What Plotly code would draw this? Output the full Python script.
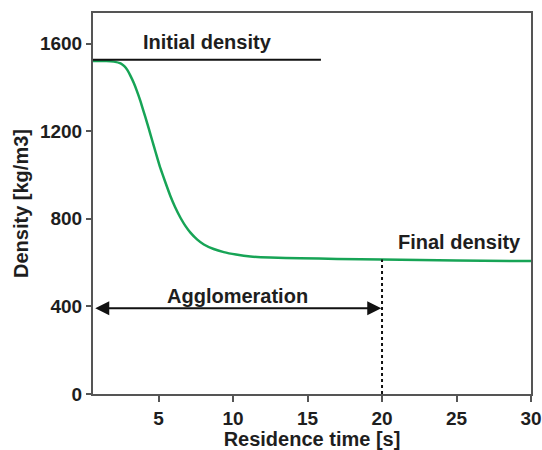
import plotly.graph_objects as go

# Residence time [s] and density [kg/m3]
time_s = [0.6, 1.5, 2.0, 2.45, 2.7, 2.9, 3.1, 3.34, 3.55, 3.79, 4.0, 4.24, 4.45, 4.68,
          4.9, 5.13, 5.45, 5.8, 6.1, 6.47, 6.8, 7.14, 7.6, 8.04, 8.7, 9.38, 10.2,
          11.17, 12.5, 14.5, 17.0, 20.0, 25.0, 30.0]
density = [1521, 1521, 1518, 1510, 1497, 1480, 1455, 1420, 1383, 1336, 1290, 1236,
           1187, 1133, 1082, 1030, 968, 903, 855, 805, 768, 737, 705, 683, 662, 648,
           637, 628, 623, 620, 617, 614, 610, 607]

initial_density = 1527
initial_line_x = [0.6, 15.9]
agglomeration_end = 20
final_density = 614
arrow_y = 392

x_ticks = [5, 10, 15, 20, 25, 30]
y_ticks = [0, 400, 800, 1200, 1600]

FONT = "Liberation Sans, Arial, sans-serif"
TXT = "#1e1e1e"
AX = "#555555"

fig = go.Figure()
fig.add_trace(go.Scatter(x=time_s, y=density, mode="lines",
                         line=dict(color="#17a456", width=2.5, shape="spline", smoothing=0.6),
                         showlegend=False, hoverinfo="skip"))
fig.add_trace(go.Scatter(x=initial_line_x, y=[initial_density, initial_density],
                         mode="lines", line=dict(color="#111111", width=2),
                         showlegend=False, hoverinfo="skip"))
fig.add_trace(go.Scatter(x=[agglomeration_end, agglomeration_end], y=[0, final_density],
                         mode="lines", line=dict(color="#111111", width=2, dash="dot"),
                         showlegend=False, hoverinfo="skip"))

fig.add_annotation(x=agglomeration_end - 0.05, y=arrow_y, ax=0.65, ay=arrow_y,
                   xref="x", yref="y", axref="x", ayref="y", text="",
                   showarrow=True, arrowhead=2, startarrowhead=2, arrowside="end+start",
                   arrowsize=1.4, startarrowsize=1.4, arrowwidth=2, arrowcolor="#111111")

ann_font = dict(family=FONT, size=20, color=TXT)
fig.add_annotation(x=8.3, y=1609, text="<b>Initial density</b>", showarrow=False, font=ann_font)
fig.add_annotation(x=10.3, y=448, text="<b>Agglomeration</b>", showarrow=False, font=ann_font)
fig.add_annotation(x=25.2, y=694, text="<b>Final density</b>", showarrow=False, font=ann_font)

fig.update_layout(
    width=542, height=450,
    margin=dict(l=93, r=11, t=13, b=56),
    plot_bgcolor="white", paper_bgcolor="white",
    font=dict(family=FONT, size=19, color=TXT),
)
fig.update_xaxes(range=[0.6, 30], tickvals=x_ticks, ticktext=[f"<b>{v}</b>" for v in x_ticks],
                 automargin=False,
                 showgrid=False, zeroline=False, showline=True, linecolor=AX, linewidth=2,
                 mirror=True, ticks="outside", ticklen=6, tickwidth=2, tickcolor=AX,
                 title=dict(text="<b>Residence time [s]</b>", font=dict(size=20), standoff=4))
fig.update_yaxes(range=[0, 1740], tickvals=y_ticks, ticktext=[f"<b>{v}</b>" for v in y_ticks],
                 automargin=False,
                 showgrid=False, zeroline=False, showline=True, linecolor=AX, linewidth=2,
                 mirror=True, ticks="outside", ticklen=5, tickwidth=2, tickcolor=AX,
                 title=dict(text="<b>Density [kg/m3]</b>", font=dict(size=20), standoff=6))

fig.write_html("out.html")
